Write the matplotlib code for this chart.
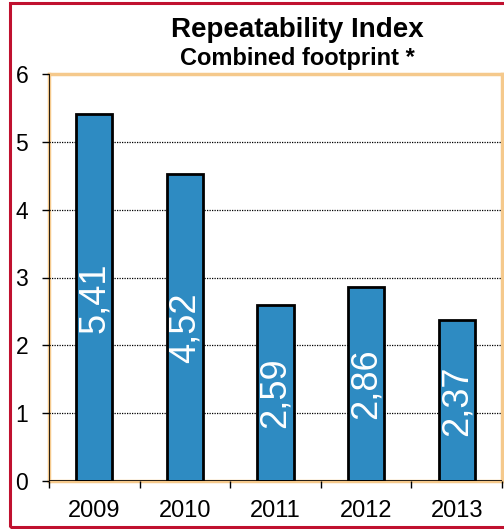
import matplotlib
matplotlib.use("Agg")
import matplotlib.pyplot as plt
from matplotlib.patches import Rectangle
import numpy as np

# ----- Data ----------------------------------------------------------------- #

YEARS = ['2009', '2010', '2011', '2012', '2013']
INDEX_VALUES = [5.41, 4.52, 2.59, 2.86, 2.37]
VALUE_LABELS = ['5,41', '4,52', '2,59', '2,86', '2,37']
Y_TICKS = [0, 1, 2, 3, 4, 5, 6]

# ----- Styling -------------------------------------------------------------- #

BAR_COLOR = '#2E8BC2'
FRAME_COLOR = '#F5C98C'
BORDER_COLOR = '#C0112F'
FIG_DPI = 100

plt.rcParams['font.family'] = ['Liberation Sans', 'DejaVu Sans']

fig = plt.figure(figsize=(504 / FIG_DPI, 529 / FIG_DPI), dpi=FIG_DPI)
ax = fig.add_axes([49 / 504, 48 / 529, 453 / 504, 407 / 529])

x = np.arange(len(YEARS))
bars = ax.bar(x, INDEX_VALUES, width=0.4, color=BAR_COLOR, edgecolor='black',
              linewidth=2, zorder=3)

# Value labels inside the bars, rotated
for bar, label in zip(bars, VALUE_LABELS):
    ax.text(bar.get_x() + bar.get_width() / 2, bar.get_height() / 2, label,
            rotation=90, ha='center', va='center', color='white', fontsize=26,
            zorder=4)

ax.set_xlim(-0.5, len(YEARS) - 0.5)
ax.set_ylim(0, 6)

# Grid lines and black axis lines inside the orange frame
for y in Y_TICKS[1:-1]:
    ax.axhline(y, color='black', linestyle=(0, (1, 1)), linewidth=0.9, zorder=1)
ax.axhline(0, color='black', linewidth=1.2, zorder=5)
ax.axvline(-0.5, color='black', linewidth=1.2, zorder=5)

# Axis ticks
ax.set_yticks(Y_TICKS)
ax.set_yticklabels([str(t) for t in Y_TICKS], fontsize=16.5)
ax.set_xticks(np.arange(len(YEARS) + 1) - 0.5)
ax.set_xticklabels([])
ax.set_xticks(x, minor=True)
ax.set_xticklabels(YEARS, minor=True, fontsize=17)
ax.tick_params(axis='y', direction='out', length=5, width=1, color='black', pad=10)
ax.tick_params(axis='x', which='major', direction='out', length=5, width=1, color='black')
ax.tick_params(axis='x', which='minor', length=0, pad=14)

for spine in ax.spines.values():
    spine.set_color(FRAME_COLOR)
    spine.set_linewidth(2.5)
    spine.set_zorder(0.5)

# Titles
fig.text(297 / 504, 1 - 30 / 529, 'Repeatability Index', ha='center', va='center',
         fontsize=20, fontweight='bold')
fig.text(297 / 504, 1 - 58 / 529, 'Combined footprint *', ha='center', va='center',
         fontsize=17, fontweight='bold')

# Outer red border
fig.patches.append(Rectangle((10 / 504, 2 / 529), 520 / 504, 524 / 529,
                             transform=fig.transFigure, fill=False,
                             edgecolor=BORDER_COLOR, linewidth=2.2))

fig.savefig('out.png', dpi=FIG_DPI)
